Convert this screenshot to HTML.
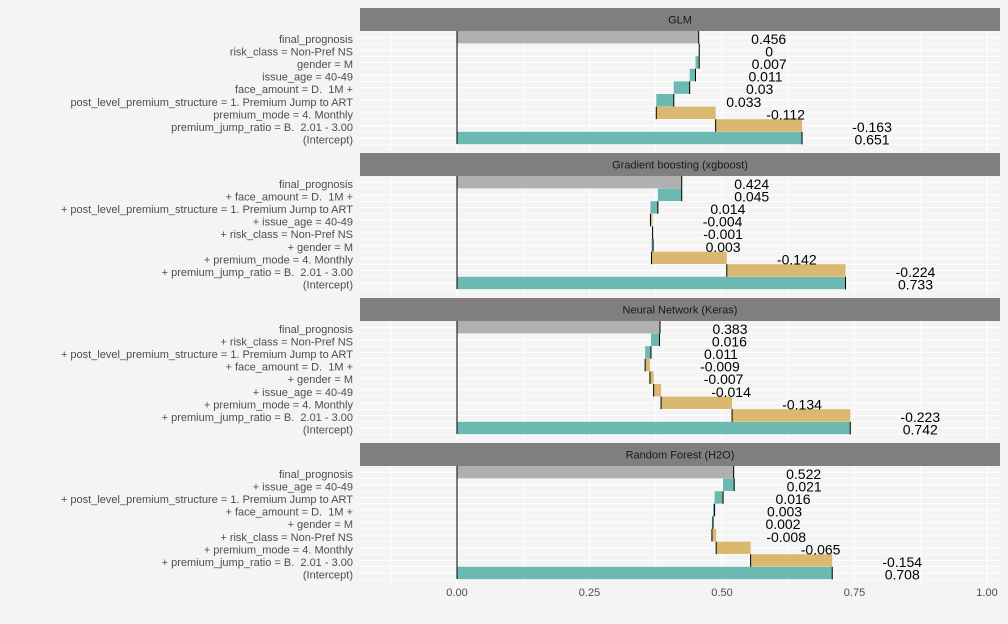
<!DOCTYPE html>
<html><head><meta charset="utf-8"><style>
body{margin:0;background:#f4f4f4;}
svg{display:block;font-family:"Liberation Sans",sans-serif;}
svg text{white-space:pre;}
</style></head><body>
<svg id="c" width="1008" height="624"></svg>
<script>
const panelNames = ["GLM","Gradient boosting (xgboost)","Neural Network (Keras)","Random Forest (H2O)"];
// variable labels, from intercept upward (bottom to top, excluding final)
const glmVars = ["(Intercept)","premium_jump_ratio = B.  2.01 - 3.00","premium_mode = 4. Monthly","post_level_premium_structure = 1. Premium Jump to ART","face_amount = D.  1M +","issue_age = 40-49","gender = M","risk_class = Non-Pref NS"];
const glmVals = [0.651,-0.163,-0.112,0.033,0.03,0.011,0.007,0];
const glmFinal = 0.456;
const gbVars = ["(Intercept)","+ premium_jump_ratio = B.  2.01 - 3.00","+ premium_mode = 4. Monthly","+ gender = M","+ risk_class = Non-Pref NS","+ issue_age = 40-49","+ post_level_premium_structure = 1. Premium Jump to ART","+ face_amount = D.  1M +"];
const gbVals = [0.733,-0.224,-0.142,0.003,-0.001,-0.004,0.014,0.045];
const gbFinal = 0.424;
const nnVars = ["(Intercept)","+ premium_jump_ratio = B.  2.01 - 3.00","+ premium_mode = 4. Monthly","+ issue_age = 40-49","+ gender = M","+ face_amount = D.  1M +","+ post_level_premium_structure = 1. Premium Jump to ART","+ risk_class = Non-Pref NS"];
const nnVals = [0.742,-0.223,-0.134,-0.014,-0.007,-0.009,0.011,0.016];
const nnFinal = 0.383;
const rfVars = ["(Intercept)","+ premium_jump_ratio = B.  2.01 - 3.00","+ premium_mode = 4. Monthly","+ risk_class = Non-Pref NS","+ gender = M","+ face_amount = D.  1M +","+ post_level_premium_structure = 1. Premium Jump to ART","+ issue_age = 40-49"];
const rfVals = [0.708,-0.154,-0.065,-0.008,0.002,0.003,0.016,0.021];
const rfFinal = 0.522;
const xTicks = [0,0.25,0.5,0.75,1];
const xTickLabels = ["0.00","0.25","0.50","0.75","1.00"];

const NS="http://www.w3.org/2000/svg";
const svg=document.getElementById('c');
function el(t,a,p){const e=document.createElementNS(NS,t);for(const k in a)e.setAttribute(k,a[k]);(p||svg).appendChild(e);return e;}
const x=v=>457+v*530;
const PX0=360,PX1=1000;
const panels=[[glmVars,glmVals,glmFinal],[gbVars,gbVals,gbFinal],[nnVars,nnVals,nnFinal],[rfVars,rfVals,rfFinal]];
panels.forEach((p,pi)=>{
  const top=8+pi*145;
  const g=el('g',{});
  
  
  const strip=el('rect',{x:PX0,y:top,width:PX1-PX0,height:23,fill:'#7f7f7f'},g);
  
  
  const st=el('text',{x:(PX0+PX1)/2,y:top+15.5,'text-anchor':'middle','font-size':11,fill:'#1a1a1a'},g);
  st.textContent=panelNames[pi];
  
  
  const py=top+23, step=12.6;
  const rowY=i=>py+6.3+i*step;
  for(let v=-0.125;v<=1.07;v+=0.125){el('line',{x1:x(v),x2:x(v),y1:py,y2:py+120,stroke:'#fff','stroke-width':1},g);}
  for(let i=0;i<9;i++){el('line',{x1:PX0,x2:PX1,y1:rowY(i),y2:rowY(i),stroke:'#fff','stroke-width':1},g);
    el('line',{x1:PX0,x2:PX1,y1:rowY(i)+step/2,y2:rowY(i)+step/2,stroke:'#fff','stroke-width':0.6},g);}
  const vars=p[0],vals=p[1],fin=p[2];
  let cum=0;
  const bars=[];
  vals.forEach((v,k)=>{const s=k===0?0:cum;cum=k===0?v:cum+v;bars.push({lab:vars[k],s:s,e:cum,v:v,row:8-k,col:k===0?'#6bb9b0':(v<0?'#dbb86f':'#6bb9b0')});});
  bars.push({lab:'final_prognosis',s:0,e:fin,v:fin,row:0,col:'#b0b0b0'});
  bars.forEach(b=>{
    const y=rowY(b.row);
    const r=el('rect',{x:Math.min(x(b.s),x(b.e)),y:y-6.3,width:Math.max(Math.abs(x(b.e)-x(b.s)),0.5),height:12.4,fill:b.col},g);
    
    
    el('line',{x1:x(b.e),x2:x(b.e),y1:y-6.3,y2:y+6.3,stroke:'#000','stroke-width':1},g);
    const t=el('text',{x:x(Math.max(b.s,b.e))+70,y:y+6.5,'text-anchor':'middle','font-size':14,fill:'#000'},g);
    t.textContent=String(b.v);
    
    
    const yl=el('text',{x:353,y:y+5.5,'text-anchor':'end','font-size':11,fill:'#4d4d4d'},g);
    yl.textContent=b.lab;
    
    
  });
  el('line',{x1:x(0),x2:x(0),y1:py,y2:py+113,stroke:'#000','stroke-width':1},g);
});
xTicks.forEach((v,i)=>{
  const t=el('text',{x:x(v),y:596,'text-anchor':'middle','font-size':11,fill:'#4d4d4d'});
  t.textContent=xTickLabels[i];
  
  
});
</script>
</body></html>
